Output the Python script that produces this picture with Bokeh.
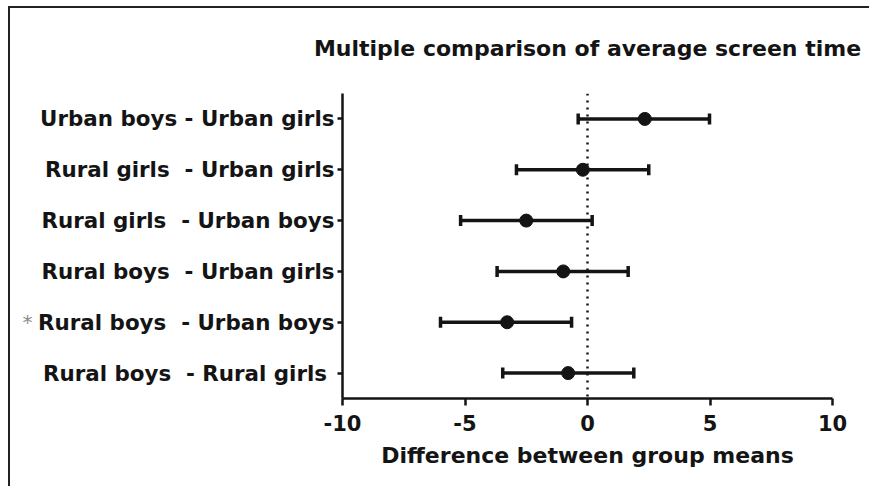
from bokeh.plotting import figure
from bokeh.models import (ColumnDataSource, Range1d, FactorRange, Span, Whisker, TeeHead,
                          FixedTicker, PrintfTickFormatter, CategoricalAxis, LinearAxis,
                          CustomJSTickFormatter)
from bokeh.embed import file_html
from bokeh.resources import INLINE

# Comparisons (bottom to top as drawn)
comparisons = [
    "Rural boys\u00a0 - Rural girls\u00a0",
    "Rural boys\u00a0 - Urban boys",
    "Rural boys\u00a0 - Urban girls",
    "Rural girls\u00a0 - Urban boys",
    "Rural girls\u00a0 - Urban girls",
    "Urban boys - Urban girls",
]
mean_diff = [-0.79, -3.28, -0.99, -2.50, -0.19, 2.34]
ci_low = [-3.46, -6.00, -3.69, -5.18, -2.90, -0.38]
ci_high = [1.89, -0.65, 1.66, 0.19, 2.50, 4.98]
significant = [False, True, False, False, False, False]
x_ticks = [-10, -5, 0, 5, 10]
title_text = "Multiple comparison of average screen time"

FONT = "DejaVu Sans"
INK = "#141414"

src = ColumnDataSource(dict(cat=comparisons, m=mean_diff, lo=ci_low, hi=ci_high))

p = figure(width=861, height=480, output_backend="svg", toolbar_location=None,
           x_range=Range1d(-10, 10), y_range=FactorRange(*comparisons, range_padding=0),
           min_border_left=332, min_border_right=39, min_border_top=85, min_border_bottom=90)
p.styles = {"border-left": "2px solid #222", "border-top": "2px solid #222",
            "margin-left": "8px", "margin-top": "6px"}
p.outline_line_color = None
p.xgrid.visible = False
p.ygrid.visible = False
p.background_fill_color = "white"
p.border_fill_color = "white"

# zero reference line
p.add_layout(Span(location=0, dimension="height", line_color=INK, line_width=2.5, line_dash="2 5"))

# error bars
wh = Whisker(base="cat", lower="lo", upper="hi", dimension="width", source=src,
             line_color=INK, line_width=3.5,
             upper_head=TeeHead(size=11, line_width=3.5, line_color=INK),
             lower_head=TeeHead(size=11, line_width=3.5, line_color=INK))
p.add_layout(wh)
p.scatter("m", "cat", source=src, size=13, color=INK)

xa = p.xaxis[0]
xa.ticker = FixedTicker(ticks=x_ticks)
xa.formatter = PrintfTickFormatter(format="%d")
xa.axis_label = "Difference between group means"
ya = p.yaxis[0]
for ax in (xa, ya):
    ax.axis_line_width = 2.5
    ax.axis_line_color = INK
    ax.major_tick_line_width = 2.5
    ax.major_tick_line_color = INK
    ax.minor_tick_line_color = None
    ax.major_tick_in = 0
    ax.major_label_text_font = FONT
    ax.major_label_text_font_style = "bold"
    ax.major_label_text_font_size = "21.4px"
    ax.major_label_text_color = INK
    ax.axis_label_text_font = FONT
    ax.axis_label_text_font_style = "bold"
    ax.axis_label_text_font_size = "22px"
    ax.axis_label_text_color = INK
xa.major_label_text_font_size = "21px"
xa.major_tick_out = 7
xa.major_label_standoff = 9
xa.axis_label_standoff = 9
ya.major_tick_out = 5
ya.major_label_standoff = 3

# title drawn as the label of a bare axis above the frame
title_axis = LinearAxis(
    ticker=FixedTicker(ticks=[]), axis_line_color=None, major_tick_line_color=None,
    minor_tick_line_color=None, major_tick_out=0, major_tick_in=0, major_label_standoff=0,
    axis_label=title_text, axis_label_standoff=33,
    axis_label_text_font=FONT, axis_label_text_font_style="bold",
    axis_label_text_font_size="22px", axis_label_text_color=INK,
)
p.add_layout(title_axis, "above")

# significance marker as an outer label column
stars = [c for c, s in zip(comparisons, significant) if s]
star_axis = CategoricalAxis(
    axis_line_color=None, major_tick_line_color=None, minor_tick_line_color=None,
    major_tick_out=0, major_tick_in=0, major_label_standoff=3,
    major_label_text_font=FONT, major_label_text_font_size="20px",
    major_label_text_color="#8a8a8a",
    formatter=CustomJSTickFormatter(args=dict(stars=stars),
                                    code="return stars.includes(tick) ? '*' : '';"),
)
p.add_layout(star_axis, "left")

open("out.html", "w").write(file_html(p, INLINE))
